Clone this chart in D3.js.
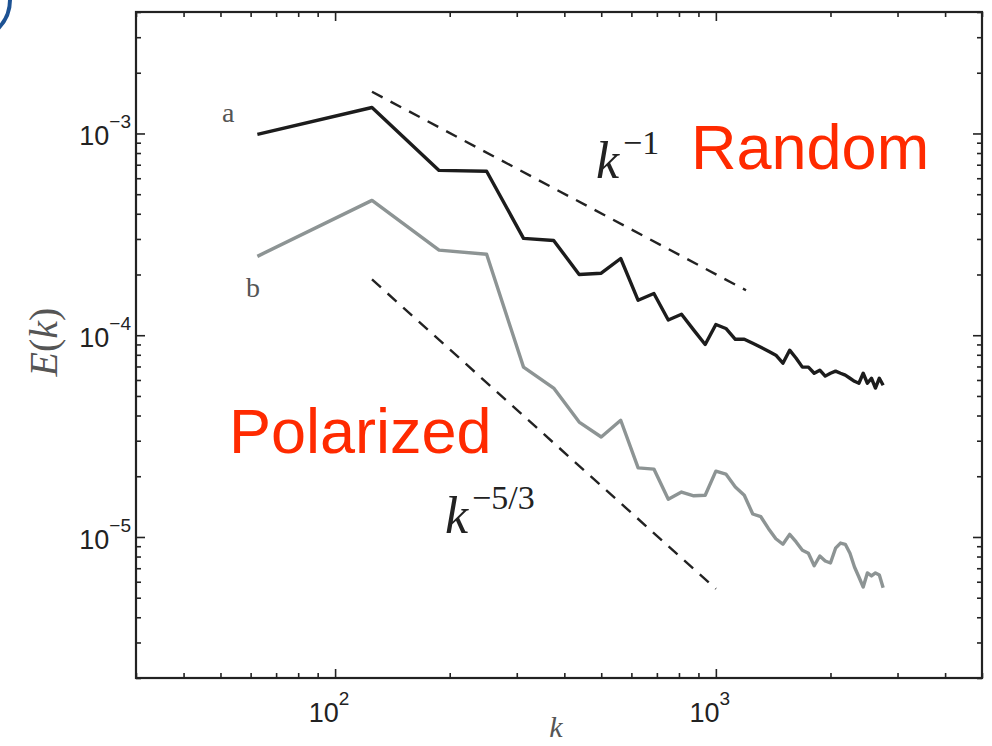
<!DOCTYPE html>
<html>
<head>
<meta charset="utf-8">
<script src="https://cdn.jsdelivr.net/npm/d3@7"></script>
<style>
body { margin: 0; background: #fff; }
</style>
</head>
<body>
<script>
// wavenumbers k (62.5 * n)
var kValues = [62.5, 125, 187.5, 250, 312.5, 375, 437.5, 500, 562.5, 625,
    687.5, 750, 812.5, 875, 937.5, 1000, 1062.5, 1125, 1187.5, 1250,
    1312.5, 1375, 1437.5, 1500, 1562.5, 1625, 1687.5, 1750, 1812.5, 1875,
    1937.5, 2000, 2062.5, 2125, 2187.5, 2250, 2312.5, 2375, 2437.5, 2500,
    2562.5, 2625, 2687.5, 2750];

// curve a (random)
var spectrumA = [9.9e-4, 1.345e-3, 6.56e-4, 6.5e-4, 3.02e-4, 2.95e-4, 2.0e-4, 2.03e-4, 2.4e-4, 1.49e-4,
    1.61e-4, 1.19e-4, 1.27e-4, 1.06e-4, 9.0e-5, 1.13e-4, 1.08e-4, 9.55e-5, 9.55e-5, 9.12e-5,
    8.72e-5, 8.33e-5, 7.96e-5, 7.27e-5, 8.43e-5, 7.69e-5, 6.95e-5, 6.95e-5, 6.48e-5, 6.71e-5,
    6.27e-5, 6.48e-5, 6.64e-5, 6.48e-5, 6.34e-5, 6.12e-5, 5.91e-5, 5.78e-5, 6.48e-5, 5.78e-5,
    6.12e-5, 5.47e-5, 6.12e-5, 5.65e-5];

// curve b (polarized)
var spectrumB = [2.46e-4, 4.66e-4, 2.64e-4, 2.52e-4, 6.95e-5, 5.47e-5, 3.71e-5, 3.13e-5, 3.79e-5, 2.2e-5,
    2.17e-5, 1.54e-5, 1.67e-5, 1.6e-5, 1.61e-5, 2.12e-5, 2.05e-5, 1.77e-5, 1.61e-5, 1.3e-5,
    1.26e-5, 1.1e-5, 9.8e-6, 9.2e-6, 1.03e-5, 9.45e-6, 8.6e-6, 8.3e-6, 7.2e-6, 8.05e-6,
    7.6e-6, 7.43e-6, 8.8e-6, 9.33e-6, 9.2e-6, 8.3e-6, 7.1e-6, 6.33e-6, 5.65e-6, 6.63e-6,
    6.41e-6, 6.63e-6, 6.48e-6, 5.6e-6];

// reference slopes (end points)
var slopeMinusOne = [[125, 1.61e-3], [1200, 1.67e-4]];
var slopeMinusFiveThirds = [[125, 1.89e-4], [1000, 5.53e-6]];

// tick labels
var xMajorTicks = [100, 1000];
var xTickExponents = ["2", "3"];
var yMajorTicks = [1e-3, 1e-4, 1e-5];
var yTickExponents = ["\u22123", "\u22124", "\u22125"];

var width = 992, height = 746;
var plot = { left: 136, right: 982, top: 12, bottom: 678 };

var svg = d3.select("body").append("svg")
    .attr("width", width)
    .attr("height", height);

var x = d3.scaleLog().domain([30, 5000]).range([plot.left, plot.right]);
var y = d3.scaleLog().domain([2e-6, 4e-3]).range([plot.bottom, plot.top]);

// blue circle remnant in the corner
svg.append("circle")
    .attr("cx", -30).attr("cy", 0).attr("r", 40)
    .attr("fill", "none")
    .attr("stroke", "#1d5293")
    .attr("stroke-width", 4);

// minor tick values from the log scales
function isDecade(d) {
    var l = Math.log10(d);
    return Math.abs(l - Math.round(l)) < 1e-9;
}
var xMinor = x.ticks().filter(function (d) { return !isDecade(d); });
var yMinor = y.ticks().filter(function (d) { return !isDecade(d); });

// ticks pointing inward on every side
function tickAxis(axisFn, scale, values, size, tx, ty) {
    var g = svg.append("g")
        .attr("transform", "translate(" + tx + "," + ty + ")")
        .call(axisFn(scale).tickValues(values).tickSize(-size).tickFormat(""));
    g.select(".domain").remove();
    g.selectAll("line").attr("stroke", "#222").attr("stroke-width", 1.6);
}

tickAxis(d3.axisBottom, x, xMajorTicks, 9, 0, plot.bottom);
tickAxis(d3.axisBottom, x, xMinor, 5, 0, plot.bottom);
tickAxis(d3.axisTop, x, xMajorTicks, 9, 0, plot.top);
tickAxis(d3.axisTop, x, xMinor, 5, 0, plot.top);
tickAxis(d3.axisLeft, y, yMajorTicks, 9, plot.left, 0);
tickAxis(d3.axisLeft, y, yMinor, 5, plot.left, 0);
tickAxis(d3.axisRight, y, yMajorTicks, 9, plot.right, 0);
tickAxis(d3.axisRight, y, yMinor, 5, plot.right, 0);

// frame
svg.append("rect")
    .attr("x", plot.left).attr("y", plot.top)
    .attr("width", plot.right - plot.left)
    .attr("height", plot.bottom - plot.top)
    .attr("fill", "none")
    .attr("stroke", "#222")
    .attr("stroke-width", 2.2);

// x tick labels
xMajorTicks.forEach(function (v, i) {
    var t = svg.append("text")
        .attr("x", x(v) - 6)
        .attr("y", 722)
        .attr("text-anchor", "middle")
        .attr("font-family", "Liberation Sans, Arial, sans-serif")
        .attr("font-size", 27)
        .attr("fill", "#222");
    t.append("tspan").text("10");
    t.append("tspan").attr("dy", -17).attr("font-size", 19).text(xTickExponents[i]);
});

// y tick labels
yMajorTicks.forEach(function (v, i) {
    var t = svg.append("text")
        .attr("x", 131)
        .attr("y", y(v) + 12)
        .attr("text-anchor", "end")
        .attr("font-family", "Liberation Sans, Arial, sans-serif")
        .attr("font-size", 27)
        .attr("fill", "#222");
    t.append("tspan").text("10");
    t.append("tspan").attr("dy", -17).attr("font-size", 19).text(yTickExponents[i]);
});

// axis titles
svg.append("text")
    .attr("transform", "translate(57,342) rotate(-90)")
    .attr("text-anchor", "middle")
    .attr("font-family", "Liberation Serif, serif")
    .attr("font-size", 40)
    .attr("fill", "#555")
    .html("<tspan font-style='italic'>E</tspan>(<tspan font-style='italic'>k</tspan>)");

svg.append("text")
    .attr("x", 556)
    .attr("y", 737)
    .attr("text-anchor", "middle")
    .attr("font-family", "Liberation Serif, serif")
    .attr("font-style", "italic")
    .attr("font-size", 30)
    .attr("fill", "#555")
    .text("k");

var line = d3.line()
    .x(function (d) { return x(d[0]); })
    .y(function (d) { return y(d[1]); });

// reference slopes
[slopeMinusOne, slopeMinusFiveThirds].forEach(function (s) {
    svg.append("path")
        .datum(s)
        .attr("d", line)
        .attr("fill", "none")
        .attr("stroke", "#222")
        .attr("stroke-width", 2.4)
        .attr("stroke-dasharray", "12,9");
});

// spectra
svg.append("path")
    .datum(d3.zip(kValues, spectrumB))
    .attr("d", line)
    .attr("fill", "none")
    .attr("stroke", "#8d9494")
    .attr("stroke-width", 3.4)
    .attr("stroke-linejoin", "round");

svg.append("path")
    .datum(d3.zip(kValues, spectrumA))
    .attr("d", line)
    .attr("fill", "none")
    .attr("stroke", "#1c1c1c")
    .attr("stroke-width", 3.4)
    .attr("stroke-linejoin", "round");

// curve labels
function serifLabel(txt, px, py) {
    svg.append("text")
        .attr("x", px).attr("y", py)
        .attr("font-family", "Liberation Serif, serif")
        .attr("font-size", 28)
        .attr("fill", "#555")
        .text(txt);
}
serifLabel("a", 222, 122);
serifLabel("b", 246, 297);

// slope labels
function powerLabel(px, py, exp) {
    var t = svg.append("text")
        .attr("x", px).attr("y", py)
        .attr("font-family", "Liberation Serif, serif")
        .attr("font-size", 52)
        .attr("fill", "#222");
    t.append("tspan").attr("font-style", "italic").text("k");
    t.append("tspan").attr("dx", 4).attr("dy", -24).attr("font-size", 34).text(exp);
}
powerLabel(596, 178, "\u22121");
powerLabel(445, 533, "\u22125/3");

// annotations
function redLabel(txt, px, py) {
    svg.append("text")
        .attr("x", px).attr("y", py)
        .attr("font-family", "Liberation Sans, Arial, sans-serif")
        .attr("font-size", 63)
        .attr("fill", "#ff2a00")
        .text(txt);
}
redLabel("Random", 691, 169);
redLabel("Polarized", 229, 453);
</script>
</body>
</html>
